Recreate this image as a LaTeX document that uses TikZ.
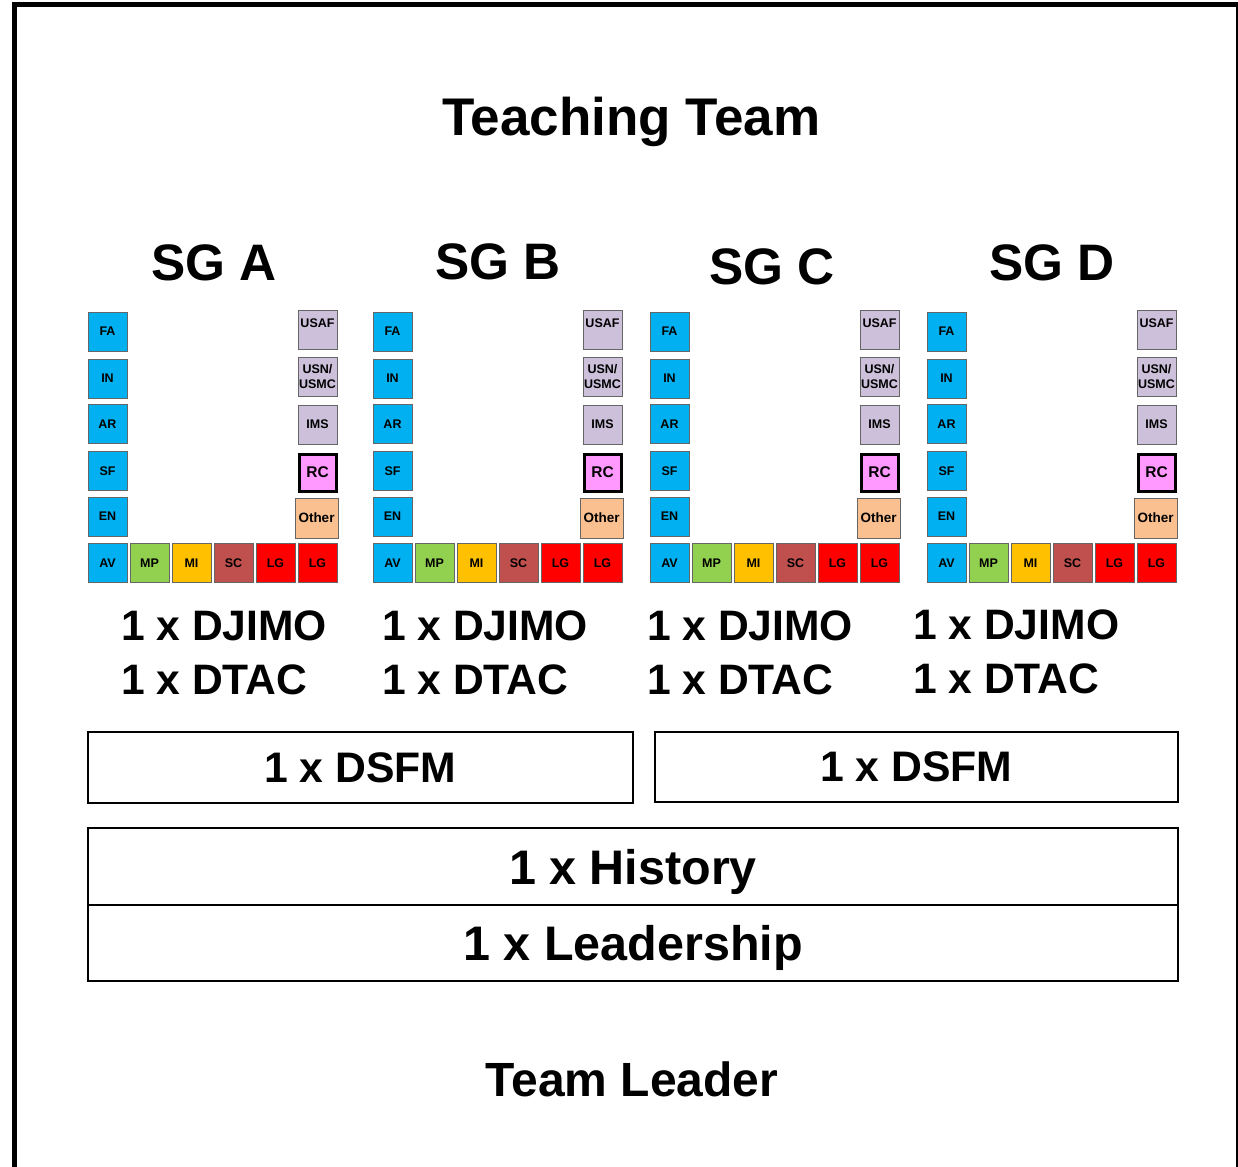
\documentclass[tikz,border=0pt]{standalone}
\usepackage{fontspec}
\setmainfont{Liberation Sans}

\definecolor{cblue}{HTML}{00B0F0}
\definecolor{cgreen}{HTML}{92D050}
\definecolor{cgold}{HTML}{FFC000}
\definecolor{cbrown}{HTML}{C0504D}
\definecolor{cred}{HTML}{FF0000}
\definecolor{clav}{HTML}{CCC0DA}
\definecolor{cpink}{HTML}{FF99FF}
\definecolor{cpeach}{HTML}{FAC090}

\tikzset{
  cell/.style={draw=black!60, line width=0.8pt, minimum width=39pt, minimum height=39pt,
    inner sep=0pt, align=center, font=\bfseries\fontsize{12.5}{15.3}\selectfont},
  rcbox/.style={cell, fill=cpink, draw=black, line width=3pt, minimum width=37pt,
    minimum height=37pt, font=\bfseries\fontsize{15.5}{16}\selectfont},
  otherbox/.style={cell, fill=cpeach, minimum width=43pt, minimum height=40pt,
    font=\bfseries\fontsize{13.5}{14}\selectfont},
  bigbox/.style={draw=black, line width=2pt, inner sep=0pt, text depth=0pt,
    font=\bfseries\fontsize{48.5}{50}\selectfont},
  bigtext/.style={inner sep=0pt, anchor=base},
  sgtext/.style={bigtext, font=\bfseries\fontsize{51.3}{55}\selectfont},
  staff/.style={inner sep=0pt, anchor=base west, font=\bfseries\fontsize{42.6}{44}\selectfont},
}

% One study group: left column of branches, bottom row, right column
\newcommand\sgblock[2]{%
  \node[cell, fill=cblue] (#2-FA) at ({#1+19.5},331.5) {FA};
  \node[cell, fill=cblue] (#2-IN) at ({#1+19.5},378.5) {IN};
  \node[cell, fill=cblue] (#2-AR) at ({#1+19.5},424) {AR};
  \node[cell, fill=cblue] (#2-SF) at ({#1+19.5},471) {SF};
  \node[cell, fill=cblue] (#2-EN) at ({#1+19.5},516.5) {EN};
  \node[cell, fill=cblue] (#2-AV) at ({#1+19.5},563) {AV};
  \node[cell, fill=cgreen] (#2-MP) at ({#1+61.5},563) {MP};
  \node[cell, fill=cgold] (#2-MI) at ({#1+103.5},563) {MI};
  \node[cell, fill=cbrown] (#2-SC) at ({#1+145.5},563) {SC};
  \node[cell, fill=cred] (#2-LGa) at ({#1+187.5},563) {LG};
  \node[cell, fill=cred] (#2-LGb) at ({#1+229.5},563) {LG};
  \node[cell, fill=clav] (#2-USAF) at ({#1+229.5},330) {\raisebox{7pt}[9pt][0pt]{USAF}};
  \node[cell, fill=clav] (#2-USN) at ({#1+229.5},376.5) {USN/\\USMC};
  \node[cell, fill=clav] (#2-IMS) at ({#1+229.5},424.5) {IMS};
  \node[rcbox] (#2-RC) at ({#1+229.5},472.5) {RC};
  \node[otherbox] (#2-Other) at ({#1+228.5},518) {Other};
}

\begin{document}
\begin{tikzpicture}[x=1pt, y=-1pt]
  \path[use as bounding box] (0,0) rectangle (1238,1166);
  \fill[white] (0,0) rectangle (1238,1166);

  \begin{scope}
    \clip (0,0) rectangle (1238,1166);
    % outer frame, running past the lower edge
    \draw[line width=5pt] (14.8,1200) -- (14.8,4.8) -- (1238.5,4.8) -- (1238.5,1200);
  \end{scope}

  \node[bigtext, font=\bfseries\fontsize{53}{55}\selectfont] (title) at (631.5,136) {Teaching Team};

  \node[sgtext] (sgA) at (214,280) {SG A};
  \node[sgtext] (sgB) at (498,279) {SG B};
  \node[sgtext] (sgC) at (772,284) {SG C};
  \node[sgtext] (sgD) at (1052,280) {SG D};

  \sgblock{88}{A}
  \sgblock{373}{B}
  \sgblock{650}{C}
  \sgblock{927}{D}

  \node[staff] (djA) at (121,640) {1 x DJIMO};
  \node[staff] (dtA) at (121,694) {1 x DTAC};
  \node[staff] (djB) at (382,640) {1 x DJIMO};
  \node[staff] (dtB) at (382,694) {1 x DTAC};
  \node[staff] (djC) at (647,640) {1 x DJIMO};
  \node[staff] (dtC) at (647,694) {1 x DTAC};
  \node[staff] (djD) at (913,639) {1 x DJIMO};
  \node[staff] (dtD) at (913,693) {1 x DTAC};

  \node[bigbox, minimum width=545pt, minimum height=71pt, font=\bfseries\fontsize{42.7}{44}\selectfont]
    (dsfmL) at (360.5,767.5) {1 x DSFM};
  \node[bigbox, minimum width=523pt, minimum height=70pt, font=\bfseries\fontsize{42.7}{44}\selectfont]
    (dsfmR) at (916.5,767) {1 x DSFM};

  \node[bigbox, minimum width=1090pt, minimum height=77pt] (hist) at (633,866.5) {1 x History};
  \node[bigbox, minimum width=1090pt, minimum height=76pt] (lead) at (633,943) {1 x Leadership};

  \node[bigtext, font=\bfseries\fontsize{48}{50}\selectfont] (tl) at (632,1096) {Team Leader};
\end{tikzpicture}
\end{document}
